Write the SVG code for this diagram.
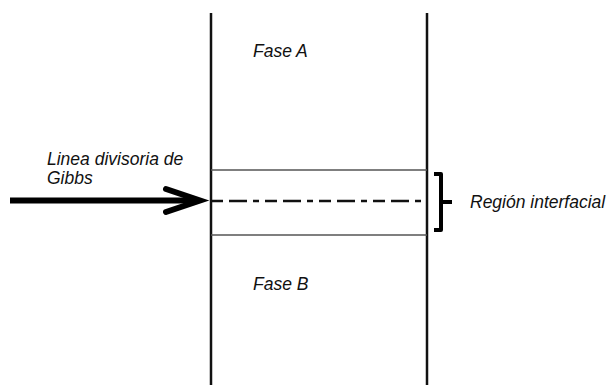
<svg xmlns="http://www.w3.org/2000/svg" width="608" height="385" viewBox="0 0 608 385">
<style>
.lbl{font-family:"Liberation Sans",Arial,sans-serif;font-style:italic;font-size:17.5px;fill:#111}
.wall{stroke:#111;stroke-width:2.5;fill:none}
.bound{stroke:#555;stroke-width:1.5;fill:none}
</style>
<rect width="608" height="385" fill="#fff"/>
<g id="walls">
<line class="wall" x1="211" y1="13" x2="211" y2="385"/>
<line class="wall" x1="427" y1="13" x2="427" y2="385"/>
</g>
<g id="region">
<line class="bound" x1="211" y1="170" x2="427" y2="170"/>
<line class="bound" x1="211" y1="235" x2="427" y2="235"/>
</g>
<g id="fase-a"><text class="lbl" x="253" y="57">Fase A</text></g>
<g id="fase-b"><text class="lbl" x="253" y="290">Fase B</text></g>
<g id="gibbs-label"><text class="lbl" x="47" y="165">Linea divisoria de</text><text class="lbl" x="47" y="184">Gibbs</text></g>
<g id="interfacial-label"><text class="lbl" x="470" y="208">Región interfacial</text></g>
<g id="connectors">
<line x1="211" y1="201" x2="427" y2="201" stroke="#111" stroke-width="2.5" stroke-dasharray="12,6,18,6,6,6"/>
<line x1="10" y1="200.5" x2="199" y2="200.5" stroke="#000" stroke-width="6"/>
<polyline points="166,189 200,200.5 166,212" fill="none" stroke="#000" stroke-width="6" stroke-linecap="round" stroke-linejoin="miter"/>
<path d="M434,174 H441 V230 H434 M441,202 H452" fill="none" stroke="#000" stroke-width="4" stroke-linejoin="round" stroke-linecap="butt"/>
</g>
</svg>
